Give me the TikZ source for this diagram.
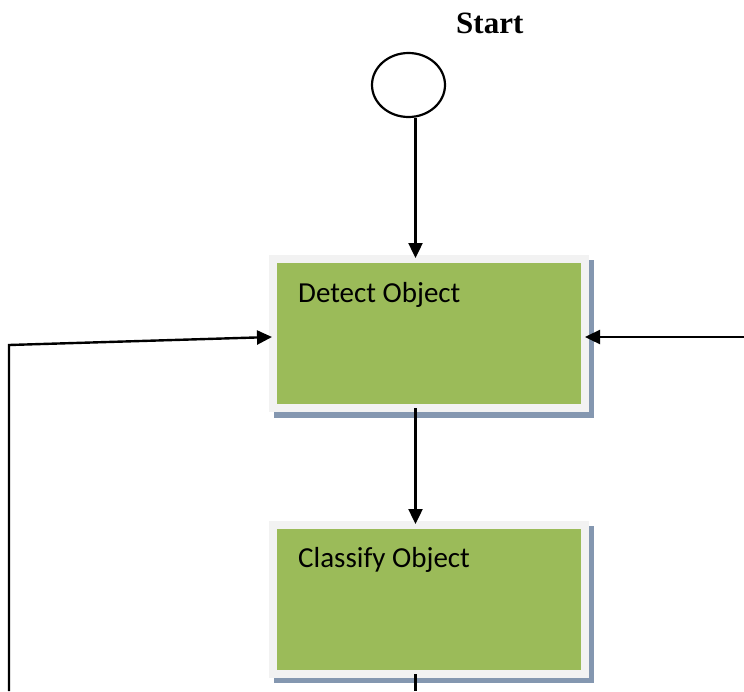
\documentclass[tikz,border=0pt]{standalone}
\usepackage{fontspec}
\usetikzlibrary{arrows.meta,shapes.geometric}
\newfontfamily\boxfont{Carlito}
\newfontfamily\titlefont{Liberation Serif}
\definecolor{stepgreen}{HTML}{9BBB59}
\definecolor{stepframe}{HTML}{F2F2F2}
\definecolor{stepshadow}{HTML}{8497B0}
\tikzset{
  stepbox/.style={draw=stepframe, line width=8pt, fill=stepgreen,
    minimum width=312pt, minimum height=149pt, inner sep=0pt},
  steplabel/.style={anchor=base west, inner sep=0pt,
    font=\boxfont\fontsize{29}{34}\selectfont},
  flow/.style={line width=2.4pt, -{Triangle[length=15pt,width=14pt]}},
  plainline/.style={line width=2.4pt},
}
\begin{document}
\begin{tikzpicture}[x=1pt,y=-1pt]
  \useasboundingbox (0,0) rectangle (744,691);

  % start marker
  \node[anchor=base west, inner sep=0pt,
        font=\titlefont\bfseries\fontsize{31}{37}\selectfont] (title) at (456,33) {Start};
  \node[draw, ellipse, line width=2.2pt, minimum width=73pt, minimum height=64pt,
        inner sep=0pt] (start) at (408.5,85) {};

  % shadows behind the step boxes
  \fill[stepshadow] (274,260) rectangle (594,418);
  \fill[stepshadow] (274,526) rectangle (594,683);

  % step boxes
  \node[stepbox] (detect) at (429,333.5) {};
  \node[steplabel] (detecttext) at (298,302) {Detect Object};
  \node[stepbox] (classify) at (429,599.5) {};
  \node[steplabel] (classifytext) at (298,567) {Classify Object};

  % helper coordinates for the connectors
  \coordinate (spine) at (415.5,0);
  \coordinate (loopy) at (0,337);
  \coordinate (leftfoot) at (9,691);
  \coordinate (leftbend) at (9,345);
  \coordinate (rightend) at (744,337);
  \coordinate (bottomend) at (415.5,691);

  % connectors
  \draw[flow] (start.south -| spine) -- ([yshift=-3pt]detect.north -| spine);
  \draw[flow] ([yshift=4pt]detect.south -| spine) -- ([yshift=-3pt]classify.north -| spine);
  \draw[plainline] ([yshift=4pt]classify.south -| spine) -- (bottomend);
  \draw[flow] (leftfoot) -- (leftbend) -- ([xshift=3pt]detect.west |- loopy);
  \draw[flow] (rightend) -- ([xshift=-4pt]detect.east |- loopy);
\end{tikzpicture}
\end{document}
